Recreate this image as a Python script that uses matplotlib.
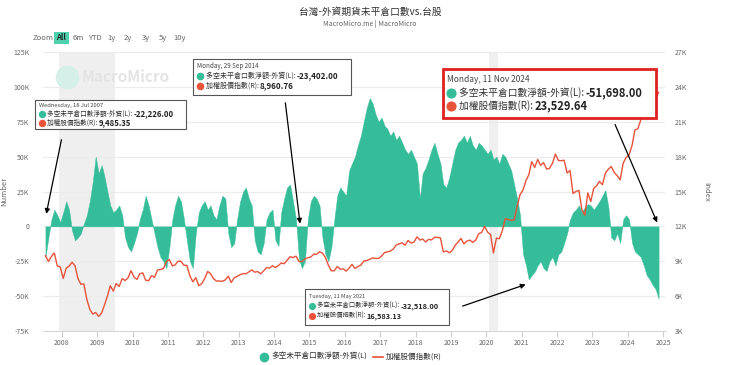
import numpy as np
import pandas as pd
import matplotlib
matplotlib.use('Agg')
import matplotlib.pyplot as plt
import matplotlib.dates as mdates
from matplotlib.patches import Rectangle

plt.rcParams['font.family'] = ['Noto Sans CJK TC', 'DejaVu Sans']

# monthly readings, Jul 2007 .. Nov 2024
# foreign net open interest (thousand contracts)
net_oi = [-22.2, -8, 5, 12, 8, 3,
          10, 18, 12, -3, -10, -8, -5, 2, 8, 18, 32, 50,
          38, 44, 36, 25, 15, 10, 12, 15, 8, -8, -15, -18,
          -12, -5, 5, 12, 22, 15, 5, -5, -15, -22, -25, -30,
          -15, 5, 15, 22, 18, 5, -10, -25, -30, -5, 10, 15,
          18, 12, 15, 8, 5, 15, 22, 20, -5, -15, -12, 5,
          18, 25, 28, 20, 15, -10, -18, -20, -12, 5, 10, 12,
          -10, -14, 10, 20, 28, 30, 18, 5, -23.4, -30, -25, 5,
          18, 22, 20, 15, -8, -20, -25, -15, 5, 22, 28, 25,
          22, 40, 45, 50, 58, 65, 75, 85, 92, 88, 80, 75,
          78, 72, 70, 65, 68, 62, 65, 60, 55, 52, 55, 50,
          45, 20, 38, 42, 48, 55, 60, 52, 45, 30, 28, 35,
          45, 55, 60, 62, 65, 60, 65, 58, 55, 60, 58, 55,
          52, 55, 48, 50, 45, 52, 50, 45, 40, 30, 20, 8,
          -20, -28, -38, -35, -32.5, -28, -25, -30, -32, -25, -22, -28,
          -20, -18, -12, -5, 5, 10, 12, 15, 10, 14, 16, 15,
          12, 15, 18, 22, 26, 14, -8, -10, -5, -12, 5, 8,
          5, -12, -18, -20, -22, -28, -35, -38, -42, -45, -51.7]
# TAIEX (thousand points)
taiex = [9.49, 8.98, 9.41, 9.71, 8.59, 8.51,
         7.52, 8.41, 8.57, 8.92, 8.62, 7.52, 7.02, 7.05, 5.72, 4.87, 4.46, 4.59,
         4.25, 4.56, 5.21, 5.99, 6.89, 6.43, 7.08, 6.83, 7.51, 7.34, 7.58, 8.19,
         7.64, 7.44, 7.92, 8.00, 7.37, 7.33, 7.76, 7.62, 8.24, 8.29, 8.37, 8.97,
         9.15, 8.60, 8.68, 9.01, 8.99, 8.65, 8.64, 7.74, 7.23, 7.59, 6.90, 7.07,
         7.52, 8.12, 7.93, 7.50, 7.30, 7.30, 7.27, 7.40, 7.72, 7.17, 7.58, 7.70,
         7.85, 7.94, 7.92, 8.09, 8.25, 8.06, 8.11, 7.92, 8.17, 8.45, 8.41, 8.61,
         8.46, 8.64, 8.85, 8.79, 9.08, 9.39, 9.32, 9.44, 8.97, 8.97, 9.19, 9.31,
         9.36, 9.62, 9.59, 9.82, 9.70, 9.32, 8.67, 8.18, 8.18, 8.55, 8.32, 8.34,
         8.15, 8.41, 8.74, 8.38, 8.54, 8.67, 9.01, 9.07, 9.17, 9.29, 9.24, 9.25,
         9.45, 9.75, 9.81, 9.87, 10.04, 10.40, 10.50, 10.59, 10.38, 10.79, 10.56, 10.64,
         11.10, 10.82, 10.92, 10.66, 10.88, 10.84, 11.06, 11.06, 11.00, 9.80, 9.89, 9.73,
         9.93, 10.39, 10.64, 10.97, 10.50, 10.73, 10.82, 10.62, 10.83, 11.36, 11.49, 12.00,
         11.50, 11.29, 9.71, 10.99, 10.94, 11.62, 12.66, 12.59, 12.52, 12.55, 13.72, 14.73,
         15.14, 15.95, 16.43, 17.57, 17.07, 17.76, 17.25, 17.49, 16.93, 16.99, 17.43, 18.22,
         17.67, 17.65, 17.69, 16.59, 16.81, 14.83, 15.00, 15.10, 13.42, 12.95, 14.88, 14.14,
         15.27, 15.50, 15.87, 15.58, 16.58, 16.92, 17.15, 16.63, 16.35, 16.00, 17.43, 17.93,
         18.15, 18.97, 20.29, 20.40, 21.17, 23.03, 22.20, 22.27, 22.22, 23.00, 23.53]
dates = pd.date_range('2007-07-01', '2024-11-01', freq='MS') + pd.Timedelta(days=14)

left_ticks = [-75, -50, -25, 0, 25, 50, 75, 100, 125]
right_ticks = [3, 6, 9, 12, 15, 18, 21, 24, 27]
recessions = [('2007-12-01', '2009-06-30'), ('2020-02-01', '2020-04-30')]

series_names = ['多空未平倉口數淨額-外資(L)', '加權股價指數(R)']
GREEN = '#35bd9a'
RED = '#e8523a'
GRID = '#ececec'
TXT = '#666666'

W, H = 740, 365
fig = plt.figure(figsize=(7.4, 3.65), dpi=100)
ax = fig.add_axes([43 / W, 1 - 331 / H, (665 - 43) / W, (331 - 52) / H])
ax2 = ax.twinx()

for a, b in recessions:
    ax.axvspan(pd.Timestamp(a), pd.Timestamp(b), color='#efefef', lw=0, zorder=0)

ax.fill_between(dates, 0, net_oi, color=GREEN, lw=0.3, edgecolor=GREEN, zorder=2)
ax2.plot(dates, taiex, color=RED, lw=1.0, zorder=3)

ax.set_ylim(-75, 125)
ax2.set_ylim(3, 27)
ax.set_xlim(pd.Timestamp('2007-06-20'), pd.Timestamp('2025-01-20'))
ax.set_yticks(left_ticks)
ax.set_yticklabels(['0' if v == 0 else f'{v}K' for v in left_ticks])
ax2.set_yticks(right_ticks)
ax2.set_yticklabels([f'{v}K' for v in right_ticks])
ax.grid(axis='y', color=GRID, lw=0.8)
ax.set_axisbelow(True)
ax.xaxis.set_major_locator(mdates.YearLocator())
ax.xaxis.set_major_formatter(mdates.DateFormatter('%Y'))

for a in (ax, ax2):
    for s in a.spines.values():
        s.set_visible(False)
    a.tick_params(axis='y', length=0, labelsize=5, labelcolor=TXT)
ax.tick_params(axis='y', pad=10)
ax2.tick_params(axis='y', pad=7)
ax.spines['bottom'].set_visible(True)
ax.spines['bottom'].set_color('#cccccc')
ax.spines['bottom'].set_linewidth(0.6)
ax.tick_params(axis='x', length=4, color='#cccccc', labelsize=5, labelcolor=TXT, pad=2)
ax.set_ylabel('Number', fontsize=5.5, color=TXT)
ax.yaxis.set_label_coords((8 - 43) / 622, 0.5)
ax2.set_ylabel('Index', fontsize=5.5, color=TXT, rotation=270, va='center')
ax2.yaxis.set_label_coords((706 - 43) / 622, 0.5)

# title and range buttons
fig.text(370 / W, 1 - 12 / H, '台灣-外資期貨未平倉口數vs.台股', ha='center', va='center',
         fontsize=7, color='#333333')
fig.text(370 / W, 1 - 24 / H, 'MacroMicro.me | MacroMicro', ha='center', va='center',
         fontsize=5, color=TXT)
fig.text(33 / W, 1 - 38 / H, 'Zoom', fontsize=5.5, color=TXT, va='center')
fig.add_artist(Rectangle((54 / W, 1 - 44 / H), 15 / W, 12 / H, transform=fig.transFigure,
                         color='#4fd1ad', lw=0))
btns = [('All', 56), ('6m', 73), ('YTD', 88), ('1y', 107), ('2y', 124), ('3y', 142), ('5y', 159), ('10y', 173)]
for lab, px in btns:
    fig.text(px / W, 1 - 38 / H, lab, fontsize=5.5, color='#222222' if lab == 'All' else TXT,
             va='center', fontweight='bold' if lab == 'All' else 'normal')

# watermark
fig.add_artist(plt.Line2D([67 / W], [1 - 77 / H], transform=fig.transFigure, marker='o',
                          markersize=16, color='#d5f0e8', lw=0, zorder=1))
fig.text(82 / W, 1 - 77 / H, 'MacroMicro', fontsize=11, color='#e4e4e4', va='center',
         fontweight='bold', zorder=1)

# legend
fig.add_artist(plt.Line2D([264 / W], [1 - 357 / H], transform=fig.transFigure, marker='o',
                          markersize=6, color=GREEN, lw=0))
fig.text(271 / W, 1 - 357 / H, series_names[0], fontsize=5.5, color='#333333', va='center')
fig.add_artist(plt.Line2D([373 / W, 383 / W], [1 - 357 / H] * 2, transform=fig.transFigure,
                          color=RED, lw=1.2))
fig.text(386 / W, 1 - 357 / H, series_names[1], fontsize=5.5, color='#333333', va='center')

# tooltips
fig.canvas.draw()
renderer = fig.canvas.get_renderer()


def tooltip(box, day, vals, sizes, ys, edge='#555555', elw=0.8):
    x0, y0, x1, y1 = box
    fig.add_artist(Rectangle((x0 / W, 1 - y1 / H), (x1 - x0) / W, (y1 - y0) / H,
                             transform=fig.transFigure, facecolor='white', edgecolor=edge,
                             lw=elw, zorder=5))
    fig.text((x0 + 4) / W, 1 - ys[0] / H, day, fontsize=sizes[0], color='#444444',
             va='center', zorder=6)
    dot = sizes[1] * 0.9
    for name, val, col, yy in zip(series_names, vals, [GREEN, RED], ys[1:]):
        fig.add_artist(plt.Line2D([(x0 + 4 + dot * 0.7) / W], [1 - yy / H], transform=fig.transFigure,
                                  marker='o', markersize=dot, color=col, lw=0, zorder=6))
        t = fig.text((x0 + 5 + dot * 1.7) / W, 1 - yy / H, name + ': ', fontsize=sizes[1],
                     color='#333333', va='center', zorder=6)
        bb = t.get_window_extent(renderer)
        fig.text(bb.x1 / W, 1 - yy / H, val, fontsize=sizes[2], color='#222222',
                 fontweight='bold', va='center', zorder=6)


def arrow(px, py, day, v):
    ax2.annotate('', xy=(mdates.date2num(pd.Timestamp(day)), v), xycoords=ax.transData,
                 xytext=(px / W, 1 - py / H), textcoords='figure fraction',
                 arrowprops=dict(arrowstyle='-|>', color='black', lw=0.9, mutation_scale=7),
                 annotation_clip=False)


tooltip((35, 100, 186, 129), 'Wednesday, 18 Jul 2007', ['-22,226.00', '9,485.35'],
        (4.2, 4.8, 5.6), (105, 114, 123))
tooltip((193, 59, 351, 95), 'Monday, 29 Sep 2014', ['-23,402.00', '8,960.76'],
        (4.5, 5.0, 5.8), (66, 76, 86))
tooltip((443, 69, 656, 118), 'Monday, 11 Nov 2024', ['-51,698.00', '23,529.64'],
        (6, 7, 8), (79, 93, 106), edge='#e02020', elw=2)
tooltip((305, 289, 449, 325), 'Tuesday, 11 May 2021', ['-32,518.00', '16,583.13'],
        (4.0, 4.6, 5.3), (296, 306, 316))

arrow(62, 137, '2007-07-18', 7)
arrow(285, 100, '2014-09-29', 0)
arrow(614, 122, '2024-11-11', 1)
arrow(460, 307, '2021-03-10', -41)

fig.savefig('out.png', dpi=100)
